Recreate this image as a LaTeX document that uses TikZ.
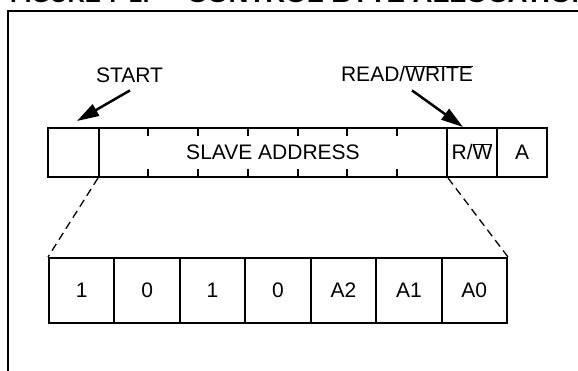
\documentclass[tikz,border=0pt]{standalone}
\usepackage{fontspec}
\setmainfont{Liberation Sans}
\usetikzlibrary{arrows.meta}
\newcommand\ovl[1]{$\overline{\hbox{#1}}$}
\begin{document}
\begin{tikzpicture}[x=1pt,y=-1pt,
  cell/.style={draw,line width=2pt,inner sep=0pt,text height=15pt,text depth=0pt,
    font=\fontsize{21pt}{25pt}\selectfont},
  lbl/.style={inner sep=0pt,font=\fontsize{21pt}{25pt}\selectfont},
  ttl/.style={inner sep=0pt,anchor=base west,font=\bfseries\fontsize{24pt}{28pt}\selectfont},
  arr/.style={line width=2.5pt,-{Triangle[length=22pt,width=13pt]}},
  zoom/.style={line width=1.3pt,dash pattern=on 8pt off 5pt}]
\path[use as bounding box] (0,0) rectangle (578,371);
\begin{scope}
\clip (0,0) rectangle (578,371);
% title (mostly cropped at the top edge)
\node[ttl] (fig) at (10,2.5) {FIGURE 7-1:};
\node[ttl] (cap) at (187,2.5) {\scalebox{1.15}[1]{CONTROL BYTE ALLOCATION}};
% frame
\draw[line width=2.2pt] (8,400) -- (8,11) -- (600,11);
\end{scope}
% top byte
\node[cell,minimum width=51pt,minimum height=49pt] (st) at (73.5,152.5) {};
\node[cell,minimum width=348pt,minimum height=49pt] (sa) at (273,152.5) {SLAVE ADDRESS};
\node[cell,minimum width=50pt,minimum height=49pt] (rw) at (472,152.5) {R/\ovl{W}};
\node[cell,minimum width=50pt,minimum height=49pt] (ack) at (522,152.5) {A};
\foreach \x in {148,198,248,298,347,397}{
  \draw[line width=2pt] (\x,128) -- (\x,136);
  \draw[line width=2pt] (\x,177) -- (\x,169);
}
% labels and arrows
\node[lbl,anchor=base] (start) at (129.5,83) {START};
\node[lbl,anchor=base] (rwl) at (407,82) {READ/\ovl{WRITE}};
\coordinate (sttip) at (77,121);
\coordinate (rwtip) at (463,127);
\draw[arr] ([xshift=0.5pt,yshift=-7pt]start.south) -- (sttip);
\draw[arr] ([xshift=5pt,yshift=-8pt]rwl.south) -- (rwtip);
% expanded bits
\foreach \t [count=\i] in {1,0,1,0,A2,A1,A0}{
  \node[cell,minimum width=65.43pt,minimum height=65pt] (b\i) at ({49+65.43*(\i-0.5)},290.5) {\t};
}
\draw[zoom] (sa.south west) -- (b1.north west);
\draw[zoom] (sa.south east) -- (b7.north east);
\end{tikzpicture}
\end{document}
